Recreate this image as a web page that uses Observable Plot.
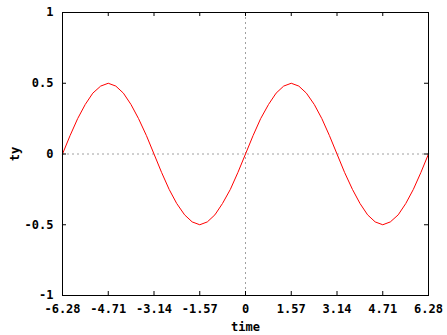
<!DOCTYPE html>
<html>
<head>
<meta charset="utf-8">
<script src="https://cdn.jsdelivr.net/npm/d3@7"></script>
<script src="https://cdn.jsdelivr.net/npm/@observablehq/plot@0.6"></script>
<style>
  html, body { margin: 0; padding: 0; background: #fff; }
  svg { display: block; }
</style>
</head>
<body>
<div id="chart"></div>
<script>
const time = [-6.28, -6.02, -5.76, -5.50, -5.24, -4.97, -4.71, -4.45, -4.19, -3.93, -3.67, -3.40,
  -3.14, -2.88, -2.62, -2.36, -2.09, -1.83, -1.57, -1.31, -1.05, -0.79, -0.52, -0.26,
  0, 0.26, 0.52, 0.79, 1.05, 1.31, 1.57, 1.83, 2.09, 2.36, 2.62, 2.88,
  3.14, 3.40, 3.67, 3.93, 4.19, 4.45, 4.71, 4.97, 5.24, 5.50, 5.76, 6.02, 6.28];
const ty = [0, 0.13, 0.25, 0.35, 0.43, 0.48, 0.50, 0.48, 0.43, 0.35, 0.25, 0.13,
  0, -0.13, -0.25, -0.35, -0.43, -0.48, -0.50, -0.48, -0.43, -0.35, -0.25, -0.13,
  0, 0.13, 0.25, 0.35, 0.43, 0.48, 0.50, 0.48, 0.43, 0.35, 0.25, 0.13,
  0, -0.13, -0.25, -0.35, -0.43, -0.48, -0.50, -0.48, -0.43, -0.35, -0.25, -0.13, 0];
const xTicks = [-6.28, -4.71, -3.14, -1.57, 0, 1.57, 3.14, 4.71, 6.28];
const xTickLabels = ["-6.28", "-4.71", "-3.14", "-1.57", "0", "1.57", "3.14", "4.71", "6.28"];
const yTicks = [-1, -0.5, 0, 0.5, 1];
const yTickLabels = ["-1", "-0.5", "0", "0.5", "1"];

const data = time.map((t, i) => ({time: t, ty: ty[i]}));

const W = 447, H = 335;
const mL = 62, mR = 19, mT = 12, mB = 40;
const plotW = W - mL - mR, plotH = H - mT - mB;
const tick = 4;

const chart = Plot.plot({
  width: W,
  height: H,
  marginLeft: mL,
  marginRight: mR,
  marginTop: mT,
  marginBottom: mB,
  style: {fontFamily: "'DejaVu Sans Mono', monospace", fontSize: "12px", fontWeight: "bold", color: "#000", background: "#fff"},
  x: {domain: [-6.28, 6.28]},
  y: {domain: [-1, 1]},
  marks: [
    Plot.ruleY([0], {stroke: "#a0a0a0", strokeDasharray: "2,3", strokeWidth: 1}),
    Plot.ruleX([0], {stroke: "#a0a0a0", strokeDasharray: "2,3", strokeWidth: 1}),
    Plot.line(data, {x: "time", y: "ty", stroke: "#ff0000", strokeWidth: 1}),
    Plot.tickX(xTicks, {x: d => d, insetTop: plotH - tick, stroke: "#000"}),
    Plot.tickX(xTicks, {x: d => d, insetBottom: plotH - tick, stroke: "#000"}),
    Plot.tickY(yTicks, {y: d => d, insetRight: plotW - tick, stroke: "#000"}),
    Plot.tickY(yTicks, {y: d => d, insetLeft: plotW - tick, stroke: "#000"}),
    Plot.frame({stroke: "#000", strokeWidth: 1}),
    Plot.axisX(xTicks, {tickSize: 0, tickPadding: 9, tickFormat: (d, i) => xTickLabels[i],
      label: "time", labelAnchor: "center", labelArrow: "none", labelOffset: 35}),
    Plot.axisY(yTicks, {tickSize: 0, tickPadding: 9, tickFormat: (d, i) => yTickLabels[i],
      label: "ty", labelAnchor: "center", labelArrow: "none", labelOffset: 52})
  ]
});
document.getElementById("chart").appendChild(chart);
</script>
</body>
</html>
